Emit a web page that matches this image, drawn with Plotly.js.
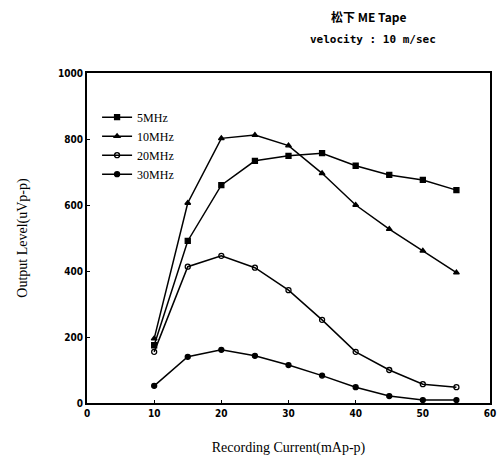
<!DOCTYPE html>
<html><head><meta charset="utf-8">
<script src="https://cdn.plot.ly/plotly-3.0.1.min.js"></script>
<style>body{margin:0;background:#fff}#c{width:497px;height:461px}</style>
</head><body><div id="c"></div>
<script>
const current = [10, 15, 20, 25, 30, 35, 40, 45, 50, 55];
const s5MHz  = [175, 491, 660, 734, 749, 757, 719, 691, 676, 645];
const s10MHz = [195, 606, 802, 812, 780, 696, 600, 527, 461, 395];
const s20MHz = [155, 413, 446, 410, 342, 252, 155, 100, 57, 48];
const s30MHz = [52, 140, 161, 143, 115, 83, 48, 21, 9, 9];
const names = ['5MHz', '10MHz', '20MHz', '30MHz'];
const symbols = ['square', 'triangle-up', 'circle-open', 'circle'];
const series = [s5MHz, s10MHz, s20MHz, s30MHz];
const xTicks = [0, 10, 20, 30, 40, 50, 60];
const yTicks = [0, 200, 400, 600, 800, 1000];

const traces = series.map((ys, i) => ({
  x: current, y: ys, name: names[i], type: 'scatter', mode: 'lines+markers',
  line: {color: '#000', width: 1.5},
  marker: {symbol: symbols[i], size: 5, color: '#000', line: {color: '#000', width: 1.3}}
}));

const tickFont = {family: 'DejaVu Sans Condensed, Liberation Sans Narrow, sans-serif', size: 10, color: '#000', weight: 'bold'};
const layout = {
  width: 497, height: 461,
  margin: {l: 87, r: 7, t: 73, b: 58},
  paper_bgcolor: '#fff', plot_bgcolor: '#fff',
  showlegend: true,
  legend: {x: 0.025, y: 0.91, xanchor: 'left', yanchor: 'top', bgcolor: 'rgba(0,0,0,0)',
    font: {family: 'Liberation Serif, serif', size: 12, color: '#000'}, itemwidth: 30, tracegroupgap: 0},
  xaxis: {range: [0, 60], tickvals: xTicks, ticktext: xTicks.map(String), showgrid: false, zeroline: false,
    showline: true, mirror: true, linecolor: '#000', linewidth: 2, ticks: 'inside', ticklen: 3, tickcolor: '#000',
    tickfont: tickFont,
    title: {text: 'Recording Current(mAp-p)', font: {family: 'Liberation Serif, serif', size: 14, color: '#000'}, standoff: 24}},
  yaxis: {range: [0, 1000], tickvals: yTicks, ticktext: yTicks.map(String), showgrid: false, zeroline: false,
    showline: true, mirror: true, linecolor: '#000', linewidth: 2, ticks: 'inside', ticklen: 3, tickcolor: '#000',
    tickfont: tickFont,
    title: {text: 'Output Level(uVp-p)', font: {family: 'Liberation Serif, serif', size: 14, color: '#000'}, standoff: 27}},
  annotations: [
    {text: '松下 ME Tape', xref: 'paper', yref: 'paper', x: 0.6, y: 1.17, xanchor: 'left', yanchor: 'middle',
     showarrow: false, font: {family: 'Noto Sans CJK SC, DejaVu Sans Mono, monospace', size: 12, color: '#000', weight: 'bold'}},
    {text: 'velocity : 10 m/sec', xref: 'paper', yref: 'paper', x: 0.548, y: 1.1, xanchor: 'left', yanchor: 'middle',
     showarrow: false, font: {family: 'DejaVu Sans Mono, monospace', size: 11, color: '#000', weight: 'bold'}}
  ]
};
Plotly.newPlot('c', traces, layout, {displayModeBar: false, staticPlot: true});
</script></body></html>
